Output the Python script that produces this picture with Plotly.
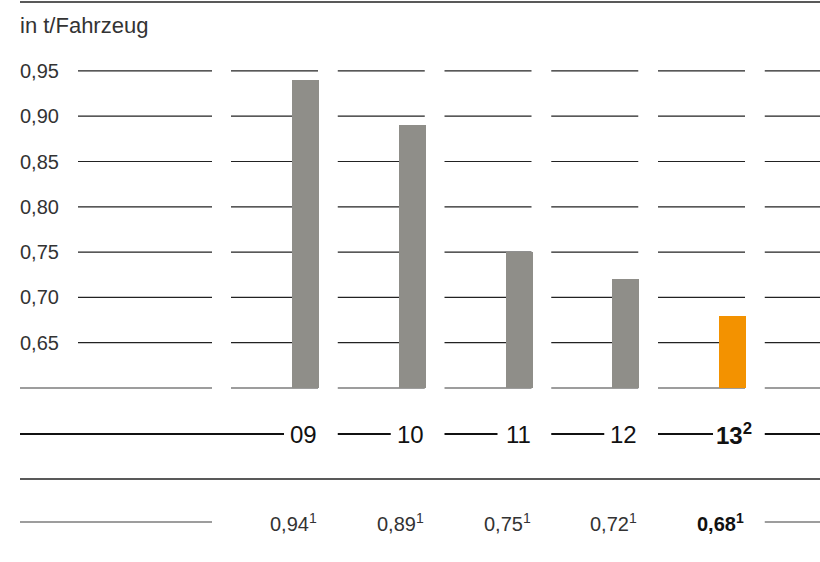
import plotly.graph_objects as go

# Data
years = ["09", "10", "11", "12", "13"]
year_labels = ["09", "10", "11", "12", "13<sup>2</sup>"]
values = [0.94, 0.89, 0.75, 0.72, 0.68]
value_labels = ["0,94<sup>1</sup>", "0,89<sup>1</sup>", "0,75<sup>1</sup>", "0,72<sup>1</sup>", "<b>0,68<sup>1</sup></b>"]
highlight = [False, False, False, False, True]
tick_vals = [0.65, 0.70, 0.75, 0.80, 0.85, 0.90, 0.95]
tick_text = ["0,65", "0,70", "0,75", "0,80", "0,85", "0,90", "0,95"]
unit_label = "in t/Fahrzeug"

# Layout constants
W, H = 820, 562
PX_PER_COL = 106.75          # horizontal pixels per category step
X0 = -1.862                  # x value at the left edge of the figure
BASE = 0.60                  # value at the bars' baseline
PX_PER_UNIT = 906.0          # vertical pixels per value unit
BASE_PX = 388.0              # pixel row of the baseline
Y_TOP = BASE + BASE_PX / PX_PER_UNIT
Y_BOT = Y_TOP - H / PX_PER_UNIT
X_MAX = X0 + W / PX_PER_COL


def xp(px):
    """Horizontal pixel -> x value."""
    return X0 + px / PX_PER_COL


def yp(py):
    """Vertical pixel -> y value."""
    return Y_TOP - py / PX_PER_UNIT


BAR_W = 0.253
SEG_L, SEG_R = -0.698, 0.117
GREY_BAR = "#8f8e89"
ORANGE = "#f39200"
DARK = "#222222"
MID = "#7d7d7d"
TEXT = "#333333"
FONT = "Liberation Sans, Arial, sans-serif"

xs = list(range(1, len(years) + 1))
colors = [ORANGE if h else GREY_BAR for h in highlight]

fig = go.Figure()
fig.add_trace(go.Bar(
    x=xs,
    y=[v - BASE for v in values],
    base=BASE,
    width=BAR_W,
    marker=dict(color=colors, line=dict(width=0)),
    hovertext=[f"{y}: {v}" for y, v in zip(years, values)],
    hoverinfo="text",
))

shapes = []


def hline(x0, x1, y, color, width):
    shapes.append(dict(type="line", xref="x", yref="y", x0=x0, x1=x1, y0=y, y1=y,
                       line=dict(color=color, width=width), layer="below"))


# gridlines, broken into the label column and one segment per category
n_cols = len(years) + 1
for tv in tick_vals:
    hline(xp(78), xp(212), tv, DARK, 1.2)
    for i in range(1, n_cols + 1):
        hline(i + SEG_L, min(i + SEG_R, X_MAX), tv, DARK, 1.2)
# baseline row in grey
hline(xp(20), xp(212), BASE, MID, 1.5)
for i in range(1, n_cols + 1):
    hline(i + SEG_L, min(i + SEG_R, X_MAX), BASE, MID, 1.5)

# top rule and rule between category row and value row
hline(xp(20), X_MAX, yp(2), DARK, 1.3)
hline(xp(20), X_MAX, yp(479), DARK, 1.3)

# category row with leading black rules
y_cat = yp(434)
for i, lab in enumerate(year_labels, start=1):
    right = i + SEG_R
    bold = highlight[i - 1]
    start = xp(20) if i == 1 else i + SEG_L
    end = right - (32 if bold else 34) / PX_PER_COL
    hline(start, end, y_cat, "#111111", 2.2)
hline(n_cols + SEG_L, X_MAX, y_cat, "#111111", 2.2)

# value row rules
y_val = yp(522)
hline(xp(20), xp(212), y_val, MID, 1.5)
hline(n_cols + SEG_L, X_MAX, y_val, MID, 1.5)

annotations = []
for i, (lab, bold) in enumerate(zip(year_labels, highlight), start=1):
    annotations.append(dict(
        x=i + SEG_R, y=y_cat, xref="x", yref="y",
        text=f"<b>{lab}</b>" if bold else lab,
        showarrow=False, xanchor="right", yanchor="middle",
        xshift=9 if bold else 1,
        font=dict(family=FONT, size=24, color="#111111"),
    ))
for i, lab in enumerate(value_labels, start=1):
    annotations.append(dict(
        x=i + SEG_R, y=y_val, xref="x", yref="y",
        text=lab, showarrow=False, xanchor="right", yanchor="middle",
        xshift=1,
        font=dict(family=FONT, size=20, color="#111111" if highlight[i - 1] else TEXT),
    ))
for tv, tt in zip(tick_vals, tick_text):
    annotations.append(dict(
        x=xp(20), y=tv, xref="x", yref="y", text=tt, showarrow=False,
        xanchor="left", yanchor="middle", xshift=-2,
        font=dict(family=FONT, size=20, color=TEXT),
    ))
annotations.append(dict(
    x=xp(20), y=yp(25), xref="x", yref="y", text=unit_label, showarrow=False,
    xanchor="left", yanchor="middle", xshift=-2,
    font=dict(family=FONT, size=22, color=TEXT),
))

fig.update_layout(
    width=W, height=H,
    margin=dict(l=0, r=0, t=0, b=0, pad=0),
    paper_bgcolor="white", plot_bgcolor="white",
    showlegend=False,
    xaxis=dict(range=[X0, X_MAX], visible=False, fixedrange=True),
    yaxis=dict(range=[Y_BOT, Y_TOP], visible=False, fixedrange=True),
    shapes=shapes,
    annotations=annotations,
    bargap=0,
)

fig.write_html("out.html", config={"displayModeBar": False})
